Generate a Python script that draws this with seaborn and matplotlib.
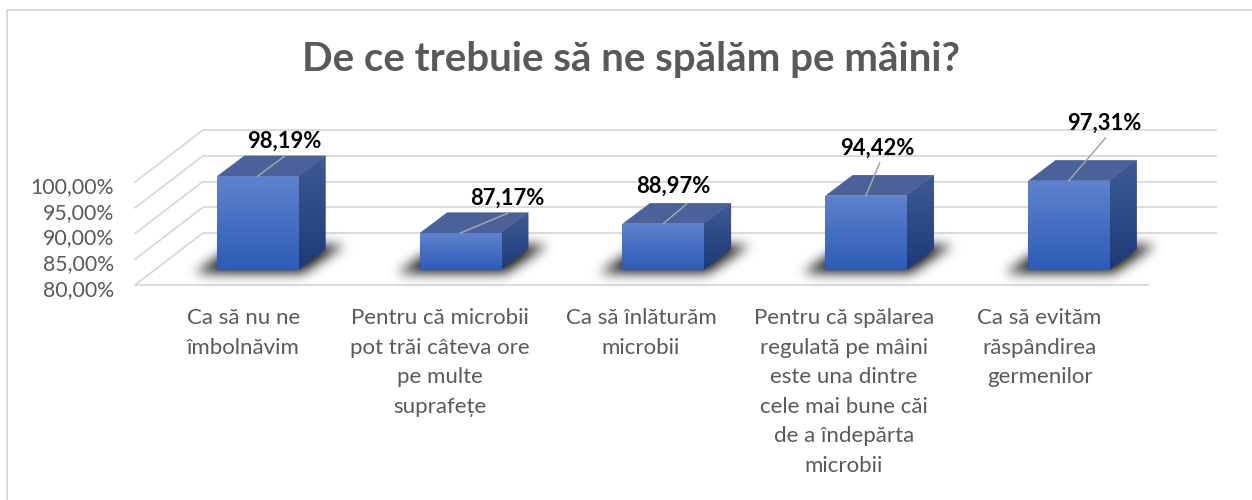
import numpy as np
import pandas as pd
import matplotlib
matplotlib.use("Agg")
import matplotlib.pyplot as plt
import seaborn as sns
from matplotlib.colors import to_rgb
from matplotlib.lines import Line2D
from matplotlib.patches import Polygon

categories = [
    "Ca să nu ne\nîmbolnăvim",
    "Pentru că microbii\npot trăi câteva ore\npe multe\nsuprafețe",
    "Ca să înlăturăm\nmicrobii",
    "Pentru că spălarea\nregulată pe mâini\neste una dintre\ncele mai bune căi\nde a îndepărta\nmicrobii",
    "Ca să evităm\nrăspândirea\ngermenilor",
]
values = [98.19, 87.17, 88.97, 94.42, 97.31]
value_labels = ["98,19%", "87,17%", "88,97%", "94,42%", "97,31%"]
y_ticks = [80, 85, 90, 95, 100]
y_tick_labels = ["80,00%", "85,00%", "90,00%", "95,00%", "100,00%"]
title = "De ce trebuie să ne spălăm pe mâini?"

# layout (pixels)
W, H = 1252, 500
AX_L, AX_R, AX_B = 135, 1149, 295
AX_H, BELOW_FLOOR = 165, 10
PX_PER_VAL = 5.15
DEPTH_X, DEPTH_Y = 68, 52
BAR_DX0, BAR_DY0 = 21, 15     # front face of the bars behind the floor edge
BAR_DX, BAR_DY = 27.5, 20.7   # bar depth
label_shift = [7, 1, -1, -1, -8]
leader_px = [(27, 20), (48, 20), (25, 21), (14, 33), (37, 43)]
text_px = [(27, 35.6), (47, 35.3), (10, 37.3), (12, 48), (36, 58)]

sns.set_theme(style="white")
plt.rcParams["font.family"] = ["Lato", "DejaVu Sans"]

fig = plt.figure(figsize=(W / 100, H / 100), dpi=100, facecolor="white")
ax = fig.add_axes([AX_L / W, 1 - AX_B / H, (AX_R - AX_L) / W, AX_H / H])
ax.patch.set_alpha(0)

df = pd.DataFrame({"cat": categories, "val": values})
sns.barplot(data=df, x="cat", y="val", color="#3f6cc4", width=0.4, saturation=1, ax=ax, zorder=4,
            linewidth=0, edgecolor="none")

ux = (AX_R - AX_L) / 5  # px per category
ddx, ddy = DEPTH_X / ux, DEPTH_Y / PX_PER_VAL  # full depth in data units
ylim = (80 - BELOW_FLOOR / PX_PER_VAL, 80 + (AX_H - BELOW_FLOOR) / PX_PER_VAL)


def gradient(patch, x0, x1, y0, y1, c_top, c_bot, z):
    t = np.linspace(0, 1, 64)[:, None, None]
    img = (1 - t) * np.array(to_rgb(c_top)) + t * np.array(to_rgb(c_bot))
    im = ax.imshow(img, extent=(x0, x1, y0, y1), origin="upper", aspect="auto",
                   zorder=z, interpolation="bilinear")
    im.set_clip_path(patch)
    im.set_clip_on(True)


def soft_shadow(x_l, x_r, y_b, shear, rise, sigma=6.0, strength=0.92):
    """Blurred parallelogram lying on the floor; lengths in data units."""
    m = 3 * sigma
    w_px = (x_r - x_l) * ux + shear * ux + 2 * m
    h_px = rise * PX_PER_VAL + 2 * m
    xs = np.arange(int(w_px)) - m
    ys = np.arange(int(h_px)) - m
    X, Y = np.meshgrid(xs, ys)
    s = Y / (rise * PX_PER_VAL)
    inside = (Y >= 0) & (s <= 1) & (X >= s * shear * ux) & (X <= (x_r - x_l) * ux + s * shear * ux)
    k = np.exp(-0.5 * (np.arange(-m, m + 1) / sigma) ** 2)
    k /= k.sum()
    a = inside.astype(float)
    a = np.apply_along_axis(lambda r: np.convolve(r, k, mode="same"), 0, a)
    a = np.apply_along_axis(lambda r: np.convolve(r, k, mode="same"), 1, a)
    rgba = np.zeros(a.shape + (4,))
    rgba[..., 3] = np.clip(a * strength, 0, 1)
    ax.imshow(rgba, origin="lower", aspect="auto", zorder=2, interpolation="bilinear", clip_on=False,
              extent=(x_l - m / ux, x_l + (w_px - m) / ux, y_b - m / PX_PER_VAL, y_b + (h_px - m) / PX_PER_VAL))


# grid
GRID = "#d9d9d9"
glw = 1.3
ax.plot([-0.5, 4.5], [80, 80], color=GRID, lw=glw, clip_on=False, zorder=1, solid_capstyle="butt")
for v in y_ticks:
    ax.plot([-0.5, -0.5 + ddx], [v, v + ddy], color=GRID, lw=glw, clip_on=False, zorder=1)
    ax.plot([-0.5 + ddx, 4.5 + ddx], [v + ddy, v + ddy], color=GRID, lw=glw, clip_on=False, zorder=1,
            solid_capstyle="butt")

for i, (p, v) in enumerate(zip(list(ax.patches), values)):
    sx0, sy0 = BAR_DX0 / ux, BAR_DY0 / PX_PER_VAL
    dw, dh = BAR_DX / ux, BAR_DY / PX_PER_VAL
    p.set_x(p.get_x() + sx0)
    p.set_y(80 + sy0)
    p.set_height(v - 80)
    p.set_clip_on(False)
    x0, x1 = p.get_x(), p.get_x() + p.get_width()
    base, top = 80 + sy0, v + sy0

    # soft shadow on the floor
    soft_shadow(x0 - 22 / ux, x1 + 4 / ux, base - 3 / PX_PER_VAL, 40 / ux, 27 / PX_PER_VAL)

    # front face gradient
    gradient(p, x0, x1, base, top, "#5f82cd", "#2d5cb7", 4.1)

    # side face
    side = Polygon([(x1, base), (x1 + dw, base + dh), (x1 + dw, top + dh), (x1, top)], closed=True,
                   facecolor="#2a4a88", edgecolor="none", zorder=3, clip_on=False)
    ax.add_patch(side)
    gradient(side, x1, x1 + dw, base, top + dh, "#3f5b94", "#1d3a78", 3.1)

    # top face
    ax.add_patch(Polygon([(x0, top), (x1, top), (x1 + dw, top + dh), (x0 + dw, top + dh)], closed=True,
                         facecolor="#4a6199", edgecolor="none", zorder=3, clip_on=False))

    # data label and leader
    xc = (x0 + x1) / 2
    ax.annotate("", xy=(xc, top), xytext=leader_px[i], textcoords="offset pixels",
                arrowprops=dict(arrowstyle="-", color="#a6a6a6", lw=1.1, shrinkA=0, shrinkB=0),
                zorder=6, annotation_clip=False)
    ax.annotate(value_labels[i], xy=(xc, top), xytext=text_px[i], textcoords="offset pixels",
                ha="center", va="center", fontsize=15.8, fontweight="bold", color="black",
                zorder=7, annotation_clip=False)

ax.set_yticks([v - 3 / PX_PER_VAL for v in y_ticks], y_tick_labels)
ax.set_xticks([i + s / ux for i, s in enumerate(label_shift)], categories)
ax.set_xlim(-0.5, 4.5)
ax.set_ylim(*ylim)  # after set_yticks, which would widen the limits
ax.set_xlabel("")
ax.set_ylabel("")
ax.tick_params(axis="y", length=0, labelcolor="#595959", labelsize=15.3, pad=15)
ax.tick_params(axis="x", length=0, labelcolor="#595959", labelsize=16, pad=9.3)
for t in ax.get_xticklabels():
    t.set_linespacing(1.6)
    t.set_ha("center")
    t.set_va("top")
for s in ax.spines.values():
    s.set_visible(False)

fig.text(631 / W, 1 - 60 / H, title, ha="center", va="center", fontsize=29, fontweight="bold", color="#595959")

fig.add_artist(Line2D([7 / W, 7 / W, 1], [0, 1 - 10 / H, 1 - 10 / H], transform=fig.transFigure,
                      color="#d9d9d9", lw=1.4))

fig.savefig("out.png", dpi=100)
